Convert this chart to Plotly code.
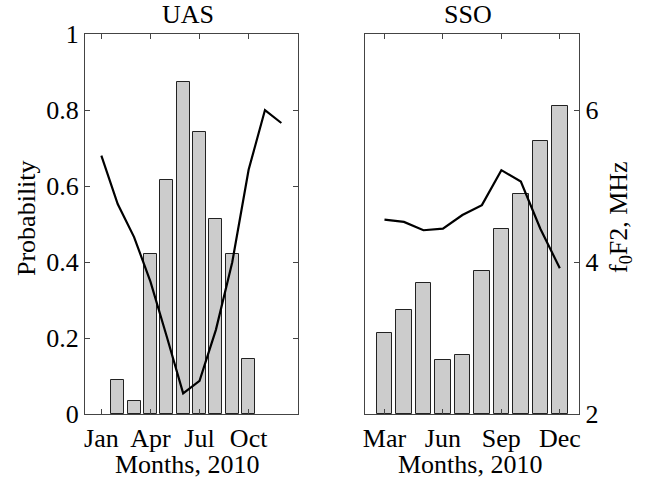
import plotly.graph_objects as go

# ---- data ----
uas_bar_months = [2, 3, 4, 5, 6, 7, 8, 9, 10]
uas_prob = [0.091, 0.034, 0.421, 0.616, 0.874, 0.742, 0.514, 0.421, 0.146]
uas_line_months = [1, 2, 3, 4, 5, 6, 7, 8, 9, 10, 11, 12]
uas_line = [0.68, 0.553, 0.466, 0.349, 0.204, 0.055, 0.088, 0.222, 0.40, 0.643, 0.80, 0.766]

sso_bar_months = [3, 4, 5, 6, 7, 8, 9, 10, 11, 12]
sso_prob = [0.213, 0.273, 0.345, 0.143, 0.155, 0.377, 0.488, 0.579, 0.719, 0.81]
sso_line_months = [3, 4, 5, 6, 7, 8, 9, 10, 11, 12]
sso_fof2 = [4.56, 4.53, 4.42, 4.44, 4.62, 4.75, 5.21, 5.06, 4.44, 3.92]

uas_xticks = [1, 4, 7, 10]
uas_xlabels = ["Jan", "Apr", "Jul", "Oct"]
sso_xticks = [3, 6, 9, 12]
sso_xlabels = ["Mar", "Jun", "Sep", "Dec"]
prob_ticks = [0, 0.2, 0.4, 0.6, 0.8, 1]
prob_labels = ["0", "0.2", "0.4", "0.6", "0.8", "1"]
fof2_ticks = [2, 4, 6]
fof2_labels = ["2", "4", "6"]

W, H = 651, 481
FONT = "Liberation Serif"
FS = 26
BAR_FILL = "#cccccc"
EDGE = "#222222"
AXC = "#444444"

fig = go.Figure()

fig.add_trace(go.Bar(x=uas_bar_months, y=uas_prob, width=0.8,
                     marker=dict(color=BAR_FILL, line=dict(color=EDGE, width=1)),
                     xaxis="x", yaxis="y", showlegend=False))
fig.add_trace(go.Scatter(x=uas_line_months, y=uas_line, mode="lines",
                         line=dict(color="black", width=2.2),
                         xaxis="x", yaxis="y", showlegend=False))

# right panel: bars on a hidden probability axis (y2), line on visible fof2 axis (y3, drawn on top)
fig.add_trace(go.Bar(x=sso_bar_months, y=sso_prob, width=0.8,
                     marker=dict(color=BAR_FILL, line=dict(color=EDGE, width=1)),
                     xaxis="x2", yaxis="y2", showlegend=False))
fig.add_trace(go.Scatter(x=sso_line_months, y=sso_fof2, mode="lines",
                         line=dict(color="black", width=2.2),
                         xaxis="x2", yaxis="y3", showlegend=False))

ydom = [1 - 414.3 / H, 1 - 34 / H]
axis_common = dict(showline=True, linecolor=AXC, linewidth=1, ticks="inside",
                   tickcolor=AXC, ticklen=5, showgrid=False, zeroline=False,
                   tickfont=dict(family=FONT, size=FS, color="black"),
                   automargin=False, fixedrange=True)

fig.update_layout(
    width=W, height=H,
    margin=dict(l=0, r=0, t=0, b=0),
    plot_bgcolor="white", paper_bgcolor="white",
    bargap=0,
    xaxis=dict(domain=[85 / W, 297.7 / W], range=[0, 13], anchor="y",
               tickmode="array", tickvals=uas_xticks, ticktext=uas_xlabels,
               mirror="ticks", **axis_common),
    yaxis=dict(domain=ydom, range=[0, 1], anchor="x",
               tickmode="array", tickvals=prob_ticks, ticktext=prob_labels,
               mirror="ticks", **axis_common),
    xaxis2=dict(domain=[365 / W, 579.3 / W], range=[2, 13], anchor="y2",
                tickmode="array", tickvals=sso_xticks, ticktext=sso_xlabels,
                mirror="ticks", **axis_common),
    yaxis2=dict(domain=ydom, range=[0, 1], anchor="x2",
                visible=False, fixedrange=True),
    yaxis3=dict(domain=ydom, range=[2, 7], anchor="x2", overlaying="y2", side="right",
                tickmode="array", tickvals=fof2_ticks, ticktext=fof2_labels,
                mirror=True, **axis_common),
)

def ann(text, x, y, angle=0):
    fig.add_annotation(text=text, x=x / W, y=1 - y / H, xref="paper", yref="paper",
                       xanchor="center", yanchor="middle", showarrow=False,
                       textangle=angle, font=dict(family=FONT, size=FS, color="black"))

ann("UAS", 188, 14)
ann("SSO", 468, 14)
ann("Months, 2010", 187, 464)
ann("Months, 2010", 470, 464)
ann("Probability", 26, 218, -90)
ann("f<sub>0</sub>F2, MHz", 620, 217, -90)

fig.write_html("out.html")
